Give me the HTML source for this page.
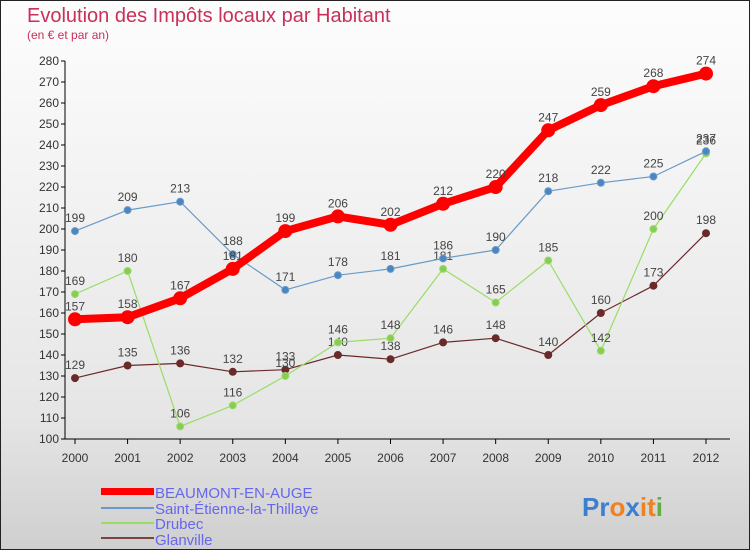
<!DOCTYPE html>
<html><head><meta charset="utf-8"><style>
body{margin:0;width:750px;height:550px;overflow:hidden;font-family:"Liberation Sans",sans-serif}
#c{position:absolute;left:0;top:0;width:750px;height:550px}
</style></head><body>
<svg id="c" width="750" height="550">
<defs><linearGradient id="bg" x1="0" y1="0" x2="0" y2="1"><stop offset="0" stop-color="#fdfdfd"/><stop offset="0.75" stop-color="#e6e6e6"/><stop offset="1" stop-color="#cfcfcf"/></linearGradient></defs>
<rect x="0.5" y="0.5" width="749" height="549" fill="url(#bg)" stroke="#222"/>
<text x="27" y="22" font-size="20" fill="#c8305a">Evolution des Impôts locaux par Habitant</text>
<text x="27" y="39" font-size="12" fill="#c8305a">(en € et par an)</text>
<g id="axes"></g><g id="series"></g>
<g font-size="15" fill="#6666ee">
<rect x="101" y="488" width="53" height="7" fill="#f00"/>
<text x="155" y="498">BEAUMONT-EN-AUGE</text>
<rect x="101" y="507" width="53" height="2" fill="#6a9bc8"/>
<text x="155" y="514">Saint-Étienne-la-Thillaye</text>
<rect x="101" y="522" width="53" height="2" fill="#99dd66"/>
<text x="155" y="529">Drubec</text>
<rect x="101" y="537" width="53" height="2" fill="#7a4444"/>
<text x="155" y="545">Glanville</text>
</g>
<text x="582" y="516" font-size="26" font-weight="bold"><tspan fill="#3a7fd0">Pr</tspan><tspan fill="#f08020">o</tspan><tspan fill="#3a7fd0">x</tspan><tspan fill="#f08020">i</tspan><tspan fill="#f08020">t</tspan><tspan fill="#60b040">i</tspan></text>
</svg>
<script>
const years=[2000,2001,2002,2003,2004,2005,2006,2007,2008,2009,2010,2011,2012];
const yTicks=[100,110,120,130,140,150,160,170,180,190,200,210,220,230,240,250,260,270,280];
const beaumont=[157,158,167,181,199,206,202,212,220,247,259,268,274];
const saintEtienne=[199,209,213,188,171,178,181,186,190,218,222,225,237];
const drubec=[169,180,106,116,130,146,148,181,165,185,142,200,236];
const glanville=[129,135,136,132,133,140,138,146,148,140,160,173,198];
const NS="http://www.w3.org/2000/svg";
const X=i=>75+i*(706-75)/(years.length-1);
const Y=v=>439-(v-100)*(439-61)/180;
function mk(t,a,p){const e=document.createElementNS(NS,t);for(const k in a)e.setAttribute(k,a[k]);p.appendChild(e);return e;}
const ax=document.getElementById('axes');
const yl=mk('line',{x1:65,y1:Y(280),x2:65,y2:439,stroke:'#000'},ax);


const xl=mk('line',{x1:65,y1:439,x2:730,y2:439,stroke:'#000'},ax);


yTicks.forEach(v=>{
 mk('line',{x1:61,y1:Y(v),x2:65,y2:Y(v),stroke:'#000'},ax);
 const t=mk('text',{x:59,y:Y(v)+4,'font-size':12,'text-anchor':'end',fill:'#333'},ax);t.textContent=v;
 
 
});
years.forEach((y,i)=>{
 mk('line',{x1:X(i),y1:439,x2:X(i),y2:444,stroke:'#000'},ax);
 const t=mk('text',{x:X(i),y:462,'font-size':12,'text-anchor':'middle',fill:'#333'},ax);t.textContent=y;
 
 
});
const sg=document.getElementById('series');
function draw(data,color,w,r,name,fill){
 const g=mk('g',{},sg);
 
 
 const pl=mk('polyline',{points:data.map((v,i)=>X(i)+','+Y(v)).join(' '),fill:'none',stroke:color,'stroke-width':w,'stroke-linejoin':'round'},g);
 
 
 data.forEach((v,i)=>{
  const c=mk('circle',{cx:X(i),cy:Y(v),r:r,fill:fill,stroke:color,'stroke-width':1},g);
  
  
  const t=mk('text',{x:X(i),y:Y(v)-9,'font-size':12,'text-anchor':'middle',fill:'#444'},g);t.textContent=v;
  
  
 });
}
draw(glanville,'#6b2a2a',1.2,3.5,'glanville','#6b2a2a');
draw(drubec,'#99dd66',1.2,3.5,'drubec','#88cc55');
draw(saintEtienne,'#6a9bc8',1.2,3.5,'saint-etienne','#4a86c0');
draw(beaumont,'#ff0000',8,6.5,'beaumont','#ff0000');
</script>
</body></html>
